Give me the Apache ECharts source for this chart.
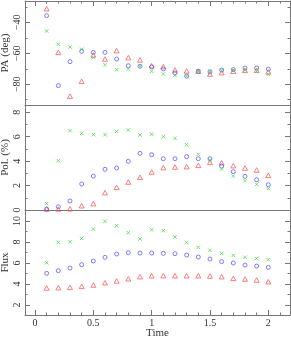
<!DOCTYPE html>
<html>
<head>
<meta charset="utf-8">
<script src="https://cdn.jsdelivr.net/npm/echarts@6/dist/echarts.min.js"></script>
<style>
html,body{margin:0;padding:0;background:#fff;}
#c{width:291px;height:339px;}
</style>
</head>
<body>
<div id="c"></div>
<script>
// ---- data ----
const times = [0.1,0.2,0.3,0.4,0.5,0.6,0.7,0.8,0.9,1.0,1.1,1.2,1.3,1.4,1.5,1.6,1.7,1.8,1.9,2.0];

const paRed   = [-31.2,-59.4,-87.7,-78.1,-61.1,-63.7,-58.3,-62.8,-64.3,-68.0,-68.6,-70.8,-71.4,-71.6,-73.4,-72.5,-71.6,-71.0,-71.0,-72.0];
const paBlue  = [-35.7,-80.9,-65.4,-58.7,-59.4,-59.4,-63.7,-68.0,-68.4,-68.8,-70.1,-72.7,-74.8,-71.6,-72.0,-70.8,-70.5,-69.5,-69.5,-70.2];
const paGreen = [-45.6,-54.2,-55.9,-57.4,-62.8,-67.4,-70.6,-70.1,-68.4,-71.6,-73.4,-74.2,-74.8,-71.6,-71.6,-71.0,-71.0,-71.0,-71.6,-73.6];

const polRed   = [0.08,0.08,0.10,0.35,0.52,1.42,1.86,2.29,2.68,3.11,3.47,3.52,3.55,3.66,3.90,3.87,3.63,3.44,3.28,2.84];
const polBlue  = [0.08,0.27,0.74,2.13,2.78,3.33,3.44,3.99,4.64,4.53,4.20,4.20,4.37,4.20,4.20,3.60,3.14,2.76,2.48,2.07];
const polGreen = [0.52,4.04,6.50,6.28,6.17,6.17,6.44,6.55,6.14,6.20,6.00,5.87,5.35,4.56,4.10,3.36,2.78,2.40,2.10,1.75];

const fluxRed   = [3.62,3.65,3.68,3.78,3.90,4.12,4.29,4.50,4.70,4.79,4.79,4.79,4.79,4.79,4.76,4.70,4.54,4.48,4.38,4.22];
const fluxBlue  = [5.02,5.27,5.52,5.84,6.19,6.54,6.86,6.98,6.95,6.95,6.92,6.89,6.76,6.57,6.38,6.13,6.00,5.81,5.71,5.59];
const fluxGreen = [6.03,7.97,8.03,8.35,9.24,9.97,9.55,8.89,8.29,9.17,9.08,8.48,7.94,7.49,7.21,6.92,6.73,6.54,6.44,6.32];

const xMajor = [0,0.5,1,1.5,2];
const xMinor = [0.1,0.2,0.3,0.4,0.6,0.7,0.8,0.9,1.1,1.2,1.3,1.4,1.6,1.7,1.8,1.9,2.1];

const paMajor = [-80,-60,-40];
const paMinor = [-90,-70,-50,-30];
const polMajor = [0,2,4,6,8];
const polMinor = [1,3,5,7];
const fluxMajor = [2,4,6,8,10];
const fluxMinor = [3,5,7,9];

const yNames = ['PA (deg)','Pol. (%)','Flux'];
const xName = 'Time';

// ---- layout / style ----
const X_MIN = -0.0857, X_MAX = 2.186;
const yRanges = [[-93.4,-26.2],[0,8.6],[1.05,11.05]];
const gridBase = {left:25, right:1, containLabel:false, outerBoundsMode:'none'};
const grids = [
  {...gridBase, top:1, height:104},
  {...gridBase, top:105, height:105},
  {...gridBase, top:210, height:105}
];
const FONT = 'Liberation Serif';
const AX = {color:'#777', width:1};
const LBL = {fontFamily:FONT, fontSize:10, color:'#333'};
const fmt = v => String(v).replace('-', '\u2212');

const xAxes = [], yAxes = [], mainX = [], mainY = [];

function xa(g, pos, line, ticks, len, labels, name) {
  xAxes.push({
    gridIndex:g, type:'value', min:X_MIN, max:X_MAX, position:pos,
    axisLine:{show:line, onZero:false, lineStyle:AX},
    axisTick:{show:!!ticks, inside:true, length:len, customValues:ticks||[], lineStyle:AX},
    axisLabel:{show:!!labels, customValues:labels||[], formatter:fmt, margin:3, ...LBL},
    splitLine:{show:false},
    name:name||'', nameLocation:'middle', nameGap:13, nameMoveOverlap:false,
    nameTextStyle:{fontFamily:FONT, fontSize:11, color:'#333'}
  });
  return xAxes.length-1;
}
function ya(g, pos, line, ticks, len, labels, name) {
  yAxes.push({
    gridIndex:g, type:'value', min:yRanges[g][0], max:yRanges[g][1], position:pos,
    axisLine:{show:line, onZero:false, lineStyle:AX},
    axisTick:{show:!!ticks, inside:true, length:len, customValues:ticks||[], lineStyle:AX},
    axisLabel:{show:!!labels, customValues:labels||[], formatter:fmt, rotate:90, margin:3, ...LBL},
    splitLine:{show:false},
    name:name||'', nameLocation:'middle', nameGap:14, nameRotate:90, nameMoveOverlap:false,
    nameTextStyle:{fontFamily:FONT, fontSize:11, color:'#333'}
  });
  return yAxes.length-1;
}

const majY = [paMajor, polMajor, fluxMajor];
const minY = [paMinor, polMinor, fluxMinor];
for (let g=0; g<3; g++) {
  if (g===2) {
    mainX[g] = xa(g,'bottom',true,xMajor,5,xMajor,xName);
    xa(g,'bottom',false,xMinor,2.5,null);
  } else {
    mainX[g] = xa(g,'bottom',true,null,0,null);
  }
  if (g===0) {
    xa(g,'top',true,xMajor,5,null);
    xa(g,'top',false,xMinor,2.5,null);
  }
  mainY[g] = ya(g,'left',true,majY[g],5,majY[g],yNames[g]);
  ya(g,'left',false,minY[g],2.5,null);
  ya(g,'right',true,majY[g],5,null);
  ya(g,'right',false,minY[g],2.5,null);
}

const RED='#ff4d4d', BLUE='#4d4dff', GREEN='#33dd33';
const XPATH = 'path://M0,0L10,10M10,0L0,10';
const sets = [[paRed,paBlue,paGreen],[polRed,polBlue,polGreen],[fluxRed,fluxBlue,fluxGreen]];
const series = [];
for (let g=0; g<3; g++) {
  const [r,b,gr] = sets[g];
  series.push({type:'scatter', xAxisIndex:mainX[g], yAxisIndex:mainY[g], symbol:'triangle', symbolSize:[5,4.5],
    itemStyle:{color:'transparent', borderColor:RED, borderWidth:0.9},
    data: times.map((t,i)=>[t,r[i]]), z:3});
  series.push({type:'scatter', xAxisIndex:mainX[g], yAxisIndex:mainY[g], symbol:'circle', symbolSize:4,
    itemStyle:{color:'transparent', borderColor:BLUE, borderWidth:0.9},
    data: times.map((t,i)=>[t,b[i]]), z:3});
  series.push({type:'scatter', xAxisIndex:mainX[g], yAxisIndex:mainY[g], symbol:XPATH, symbolSize:3.5,
    itemStyle:{color:'transparent', borderColor:GREEN, borderWidth:0.9},
    data: times.map((t,i)=>[t,gr[i]]), z:3});
}

const chart = echarts.init(document.getElementById('c'), null, {renderer:'canvas'});
chart.setOption({
  animation:false,
  backgroundColor:'#fff',
  grid:grids,
  xAxis:xAxes,
  yAxis:yAxes,
  series:series
});
</script>
</body>
</html>
